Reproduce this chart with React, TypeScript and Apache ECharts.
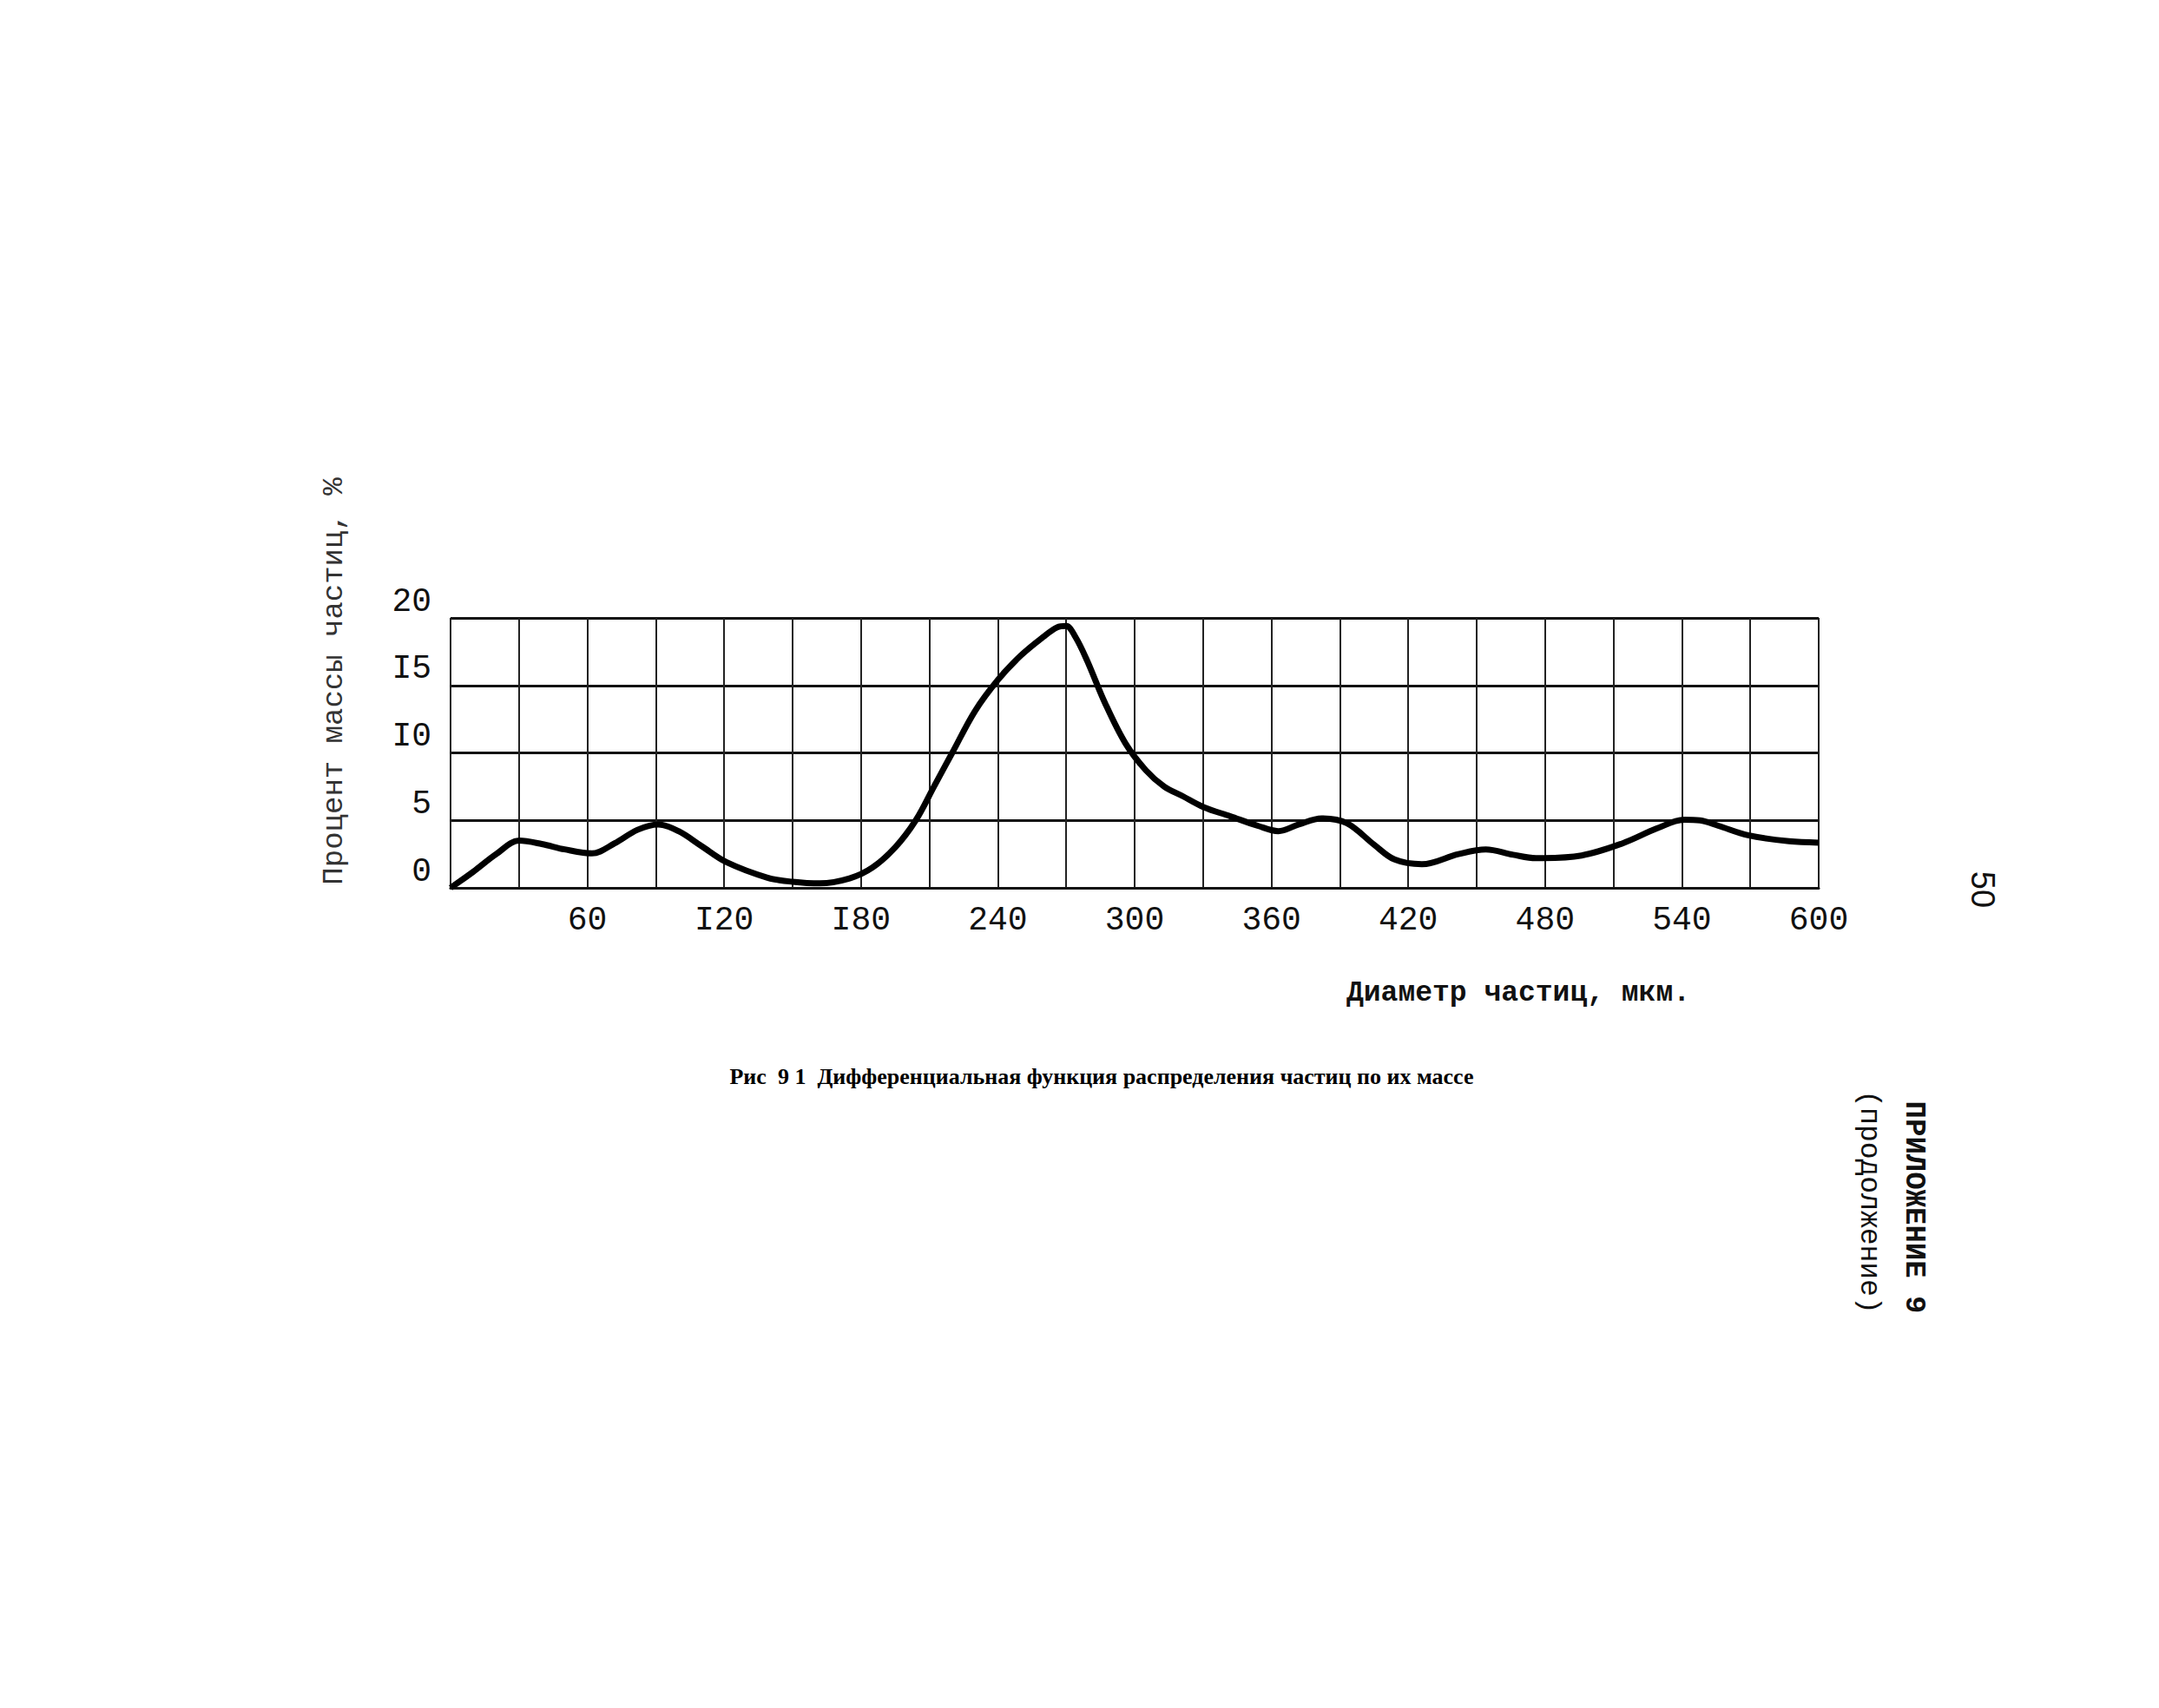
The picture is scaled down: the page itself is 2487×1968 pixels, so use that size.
import React, { useEffect, useRef } from "react";
import * as echarts from "echarts";

// Particle diameter, µm (x) and percent of particle mass (y)
const diameters = [
  0, 10, 20, 30, 40, 50, 62, 72, 82, 91, 100, 110, 121, 139, 150, 162, 175, 185, 195, 204,
  212, 220, 230, 240, 250, 260, 266, 270, 274, 279, 287, 296, 305, 313, 321, 330, 342, 354,
  363, 372, 382, 393, 405, 414, 426, 442, 454, 466, 476, 496, 514, 529, 541, 548, 556, 569,
  587, 600,
];
const massPercent = [
  0, 1.2, 2.5, 3.5, 3.25, 2.85, 2.55, 3.3, 4.3, 4.7, 4.2, 3.1, 1.9, 0.75, 0.45, 0.33, 0.7,
  1.5, 3.0, 5.0, 7.5, 10.0, 13.1, 15.4, 17.2, 18.6, 19.3, 19.4, 18.6, 16.9, 13.7, 10.7, 8.7,
  7.5, 6.8, 6.0, 5.3, 4.6, 4.2, 4.7, 5.15, 4.8, 3.2, 2.1, 1.75, 2.5, 2.85, 2.45, 2.2, 2.4, 3.3,
  4.4, 5.05, 5.0, 4.6, 3.9, 3.45, 3.35,
];

const xTickValues = [60, 120, 180, 240, 300, 360, 420, 480, 540, 600];
const xTickLabels = ["60", "I20", "I80", "240", "300", "360", "420", "480", "540", "600"];
const yTickValues = [0, 5, 10, 15, 20];
const yTickLabels = ["0", "5", "I0", "I5", "20"];

const yTitle = "Процент массы частиц, %";
const xTitle = "Диаметр частиц, мкм.";
const caption = "Рис  9 1  Дифференциальная функция распределения частиц по их массе";
const appendixTitle = "ПРИЛОЖЕНИЕ 9";
const appendixSub = "(продолжение)";
const pageNumber = "50";

export default function App() {
  const ref = useRef<HTMLDivElement>(null);

  useEffect(() => {
    if (!ref.current) return;
    const chart = echarts.init(ref.current, null, { renderer: "svg" });
    const mono = "'Liberation Mono', 'DejaVu Sans Mono', monospace";
    chart.setOption({
      animation: false,
      backgroundColor: "#ffffff",
      grid: { left: 519, top: 712, width: 1576, height: 311 },
      xAxis: {
        type: "value",
        min: 0,
        max: 600,
        interval: 30,
        axisLine: { show: true, lineStyle: { color: "#111", width: 3 } },
        axisTick: { show: false },
        splitLine: { show: true, lineStyle: { color: "#222", width: 2 } },
        axisLabel: {
          margin: 18,
          fontFamily: mono,
          fontSize: 38,
          color: "#111",
          formatter: (v: number) => {
            const i = xTickValues.indexOf(v);
            return i >= 0 ? xTickLabels[i] : "";
          },
        },
      },
      yAxis: {
        type: "value",
        min: 0,
        max: 20,
        interval: 5,
        axisLine: { show: false },
        axisTick: { show: false },
        splitLine: { show: true, lineStyle: { color: "#111", width: 3 } },
        axisLabel: {
          margin: 22,
          fontFamily: mono,
          fontSize: 38,
          color: "#111",
          verticalAlign: "bottom",
          formatter: (v: number) => {
            const i = yTickValues.indexOf(v);
            return i >= 0 ? yTickLabels[i] : "";
          },
        },
      },
      series: [
        {
          type: "line",
          data: diameters.map((d, i) => [d, massPercent[i]]),
          smooth: 0.35,
          showSymbol: false,
          clip: false,
          lineStyle: { color: "#000", width: 7 },
        },
      ],
      graphic: [
        {
          type: "text",
          x: 385,
          y: 785,
          rotation: Math.PI / 2,
          style: {
            text: yTitle,
            fontFamily: mono,
            fontSize: 34,
            fill: "#333",
            align: "center",
            verticalAlign: "middle",
          },
        },
        {
          type: "text",
          x: 1749,
          y: 1144,
          style: {
            text: xTitle,
            fontFamily: mono,
            fontWeight: "bold",
            fontSize: 33,
            fill: "#111",
            align: "center",
            verticalAlign: "middle",
          },
        },
        {
          type: "text",
          x: 1269,
          y: 1240,
          style: {
            text: caption,
            fontFamily: "'Liberation Serif', 'Times New Roman', serif",
            fontWeight: "bold",
            fontSize: 26,
            fill: "#000",
            align: "center",
            verticalAlign: "middle",
          },
        },
        {
          type: "text",
          x: 2205,
          y: 1391,
          rotation: -Math.PI / 2,
          style: {
            text: appendixTitle,
            fontFamily: mono,
            fontWeight: "bold",
            fontSize: 34,
            fill: "#111",
            align: "center",
            verticalAlign: "middle",
          },
        },
        {
          type: "text",
          x: 2152,
          y: 1385,
          rotation: -Math.PI / 2,
          style: {
            text: appendixSub,
            fontFamily: mono,
            fontSize: 33,
            fill: "#111",
            align: "center",
            verticalAlign: "middle",
          },
        },
        {
          type: "text",
          x: 2284,
          y: 1025,
          rotation: -Math.PI / 2,
          style: {
            text: pageNumber,
            fontFamily: "'Liberation Sans', Arial, sans-serif",
            fontSize: 38,
            fill: "#111",
            align: "center",
            verticalAlign: "middle",
          },
        },
      ],
    });
    return () => chart.dispose();
  }, []);

  return (
    <div
      ref={ref}
      style={{ position: "fixed", left: 0, top: 0, width: 2487, height: 1968, background: "#fff" }}
    />
  );
}
